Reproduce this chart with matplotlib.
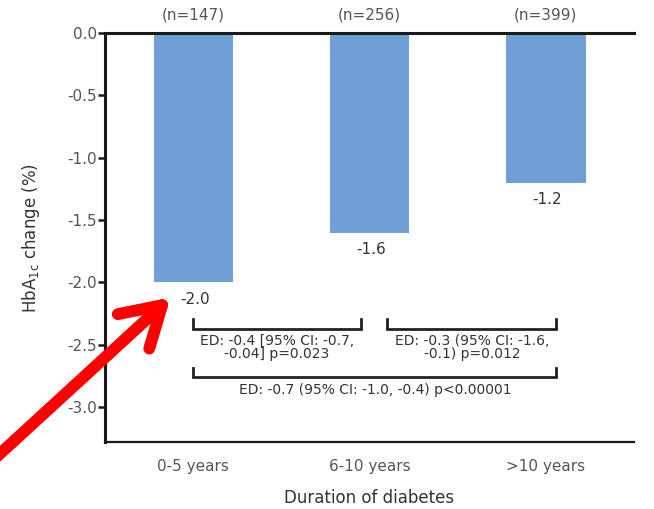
import numpy as np
import matplotlib
matplotlib.use("Agg")
import matplotlib.pyplot as plt

plt.rcParams['font.family'] = ['DejaVu Sans']
plt.rcParams['mathtext.default'] = 'regular'

# data
categories = ["0-5 years", "6-10 years", ">10 years"]
hba1c_change = [-2.0, -1.6, -1.2]
n_labels = ["(n=147)", "(n=256)", "(n=399)"]
value_labels = ["-2.0", "-1.6", "-1.2"]
comparisons = [
    ("ED: -0.4 [95% CI: -0.7,\n-0.04] p=0.023", 0.0, 0.95, -2.37),
    ("ED: -0.3 (95% CI: -1.6,\n-0.1) p=0.012", 1.10, 2.06, -2.37),
    ("ED: -0.7 (95% CI: -1.0, -0.4) p<0.00001", 0.0, 2.06, -2.76),
]

bar_color = "#6f9fd4"
text_color = "#333333"
tick_color = "#555555"

fig = plt.figure(figsize=(6.54, 5.09), dpi=100)
ax = fig.add_axes([0.1606, 0.1316, 0.8089, 0.8036])

x = np.arange(len(categories))
ax.bar(x, hba1c_change, width=0.45, color=bar_color)

ax.set_xlim(-0.5, 2.5)
ax.set_ylim(-3.28, 0)
ax.set_yticks(np.arange(0, -3.01, -0.5))
ax.set_yticklabels([f"{v:.1f}" for v in np.arange(0, -3.01, -0.5)])
ax.set_xticks(x)
ax.set_xticklabels(categories)

ax.spines["right"].set_visible(False)
ax.spines["left"].set_linewidth(2.2)
ax.spines["top"].set_linewidth(2.2)
ax.spines["bottom"].set_linewidth(1.6)
for s in ["left", "top", "bottom"]:
    ax.spines[s].set_color("#1a1a1a")

ax.tick_params(axis="y", direction="out", length=5, width=1.8, color="#1a1a1a",
               labelsize=11, labelcolor=tick_color, pad=1)
ax.tick_params(axis="x", length=0, labelsize=11, labelcolor=tick_color, pad=12)

ax.set_ylabel("HbA$_{1c}$ change (%)", fontsize=12, color="#333333", labelpad=18)
ax.set_xlabel("Duration of diabetes", fontsize=12, color="#333333", labelpad=11)

# n labels above bars
for xi, lab in zip(x, n_labels):
    ax.annotate(lab, (xi, 0), xytext=(0, 13), textcoords="offset points",
                ha="center", va="center", fontsize=11, color=tick_color,
                annotation_clip=False)

# value labels below bars
for xi, v, lab in zip(x, hba1c_change, value_labels):
    ax.annotate(lab, (xi, v), xytext=(1, -12), textcoords="offset points",
                ha="center", va="center", fontsize=11, color=text_color)

# comparison brackets
for txt, x0, x1, yb in comparisons:
    ax.plot([x0, x0, x1, x1], [yb + 0.075, yb, yb, yb + 0.075],
            color="#222222", lw=2.0, solid_joinstyle="miter")
    ax.annotate(txt, ((x0 + x1) / 2, yb), xytext=(0, -4), textcoords="offset points",
                ha="center", va="top", fontsize=10, color=text_color, linespacing=0.9)

# red arrow pointing at the first bar
ax.annotate("", xy=(-0.128, -2.12), xytext=(-0.02, 0.085), textcoords="figure fraction",
            annotation_clip=False,
            arrowprops=dict(arrowstyle="->,head_length=0.7,head_width=0.42",
                            mutation_scale=40, color="#ff0000", lw=8.5,
                            capstyle="round", joinstyle="round", shrinkA=0, shrinkB=0))

fig.savefig("out.png", dpi=100)
